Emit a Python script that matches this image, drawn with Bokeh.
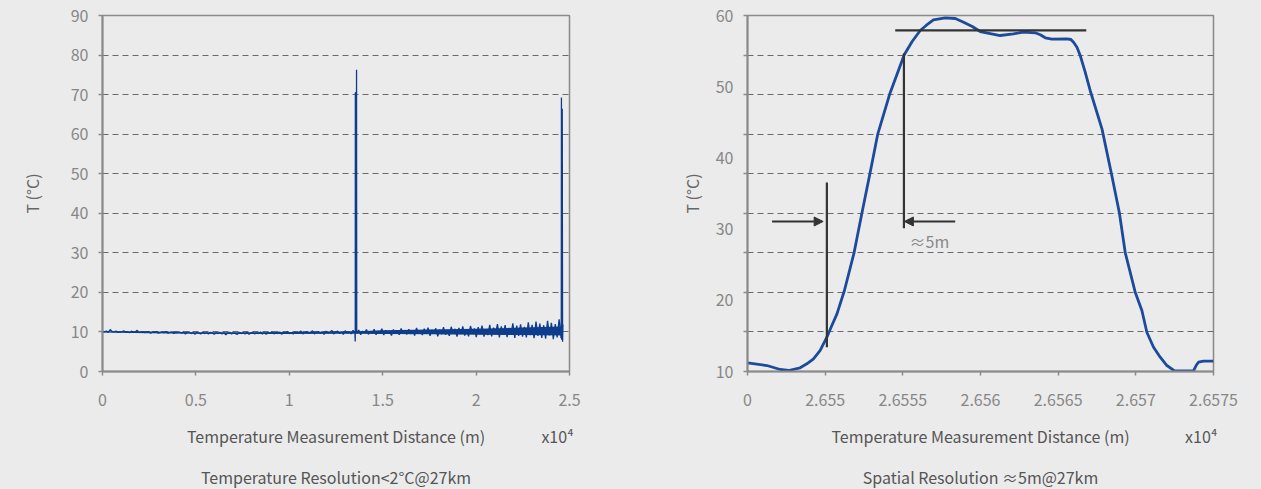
import numpy as np
from bokeh.plotting import figure
from bokeh.layouts import row
from bokeh.models import Range1d, FixedTicker, Label, Arrow, NormalHead, LinearAxis
from bokeh.embed import file_html
from bokeh.resources import INLINE

# ---------------- data : left chart (distance in 1e4 m, temperature in degC) ----------------
trace_start = 0.0
trace_end = 2.465
noise_vals = [
    10.1, 10.0, 10.2, 9.9, 10.6, 10.1, 10.0, 10.2, 9.9, 10.1, 10.0, 10.3, 9.9, 10.1, 9.8, 10.2, 9.9, 10.0, 10.4, 9.9,
    10.0, 10.1, 9.8, 10.0, 10.1, 9.7, 10.0, 9.9, 10.1, 9.7, 9.9, 10.0, 9.8, 10.1, 9.7, 9.9, 10.0, 9.6, 9.9, 9.8,
    10.0, 9.7, 9.9, 9.5, 9.8, 10.0, 9.6, 9.8, 9.4, 9.9, 9.7, 9.5, 9.9, 9.6, 9.8, 9.5, 9.9, 9.7, 9.4, 9.8,
    9.6, 9.9, 9.5, 9.8, 9.3, 9.7, 9.9, 9.5, 9.8, 9.6, 9.4, 9.9, 9.6, 9.8, 9.5, 9.9, 9.4, 9.7, 9.9, 9.5,
    9.8, 9.6, 10.0, 9.5, 9.8, 9.4, 9.9, 9.7, 10.1, 9.5, 9.8, 9.6, 10.0, 9.4, 9.9, 9.7, 10.1, 9.6, 9.8, 9.5,
    10.0, 9.6, 9.9, 10.2, 9.5, 9.8, 10.1, 9.6, 9.9, 10.3, 9.5, 9.9, 10.1, 9.6, 10.0, 9.4, 10.2, 9.7, 9.9, 10.4,
    9.5, 9.9, 10.2, 9.6, 10.0, 9.4, 10.3, 9.7, 10.1, 9.5, 10.4, 9.8, 9.6, 10.5, 9.3, 10.2, 9.7, 10.6, 9.4, 10.1,
    9.6, 10.7, 9.3, 10.2, 9.8, 10.8, 9.2, 10.4, 9.7, 10.1, 9.1, 10.6, 9.8, 10.3, 9.3, 10.9, 9.6, 10.2, 9.4, 10.7,
    9.5, 10.4, 9.1, 11.0, 9.7, 10.3, 9.2, 10.8, 9.6, 11.1, 9.0, 10.5, 9.8, 10.9, 8.9, 10.6, 9.4, 11.2, 9.3, 10.4,
    9.0, 11.3, 9.6, 10.8, 8.8, 11.0, 9.5, 11.4, 9.1, 10.6, 8.9, 11.5, 9.7, 10.9, 8.7, 11.2, 9.4, 11.6, 8.8, 10.7,
    9.2, 11.8, 8.9, 11.1, 9.6, 12.0, 8.6, 11.4, 9.3, 11.7, 8.7, 11.0, 9.5, 12.2, 8.5, 11.6, 9.0, 11.9, 8.8, 11.3,
    8.6, 12.4, 9.2, 11.8, 8.4, 12.6, 9.0, 12.1, 8.5, 11.7, 8.3, 12.8, 9.1, 12.3, 8.2, 12.0, 8.6, 13.2, 8.4, 11.9,
]
spike_x = [1.3530, 1.3536, 1.3560, 1.3584, 1.3600, 1.3610,
           2.4560, 2.4568, 2.4578, 2.4600, 2.4612, 2.4630]
spike_y = [7.6, 70.4, 70.6, 9.8, 76.3, 9.9,
           13.5, 69.3, 8.0, 66.3, 66.3, 7.5]
# dense core of the noisy trace
band_x = [0, 0.25, 0.5, 0.75, 1.0, 1.25, 1.36, 1.5, 1.75, 2.0, 2.25, 2.465]
band_lo = [9.85, 9.7, 9.55, 9.5, 9.5, 9.55, 9.55, 9.5, 9.4, 9.3, 9.2, 9.1]
band_hi = [10.15, 10.1, 9.95, 9.9, 10.0, 10.1, 10.15, 10.4, 10.6, 10.8, 11.1, 11.4]

left_xticks = [0, 0.5, 1, 1.5, 2, 2.5]
left_xlabels = ["0", "0.5", "1", "1.5", "2", "2.5"]
left_yticks = [0, 10, 20, 30, 40, 50, 60, 70, 80, 90]
left_grid = [10, 20, 30, 40, 50, 60, 70, 80]

# ---------------- data : right chart ----------------
curve_x = [2.6545, 2.654625, 2.654711, 2.654764, 2.654839, 2.654882, 2.654925, 2.654968, 2.655011,
           2.655043, 2.655076, 2.655124, 2.655186, 2.655237, 2.655288, 2.655339, 2.655414, 2.655509,
           2.655560, 2.655612, 2.655650, 2.655697, 2.655773, 2.655838, 2.655891, 2.655947, 2.655998,
           2.656127, 2.656211, 2.656277, 2.656352, 2.656385, 2.656417, 2.656460, 2.656556, 2.656582,
           2.656599, 2.656621, 2.656642, 2.656674, 2.656706, 2.656782, 2.656843, 2.656894, 2.656932,
           2.656996, 2.657039, 2.657071, 2.657114, 2.657157, 2.657200, 2.657249, 2.657371, 2.657388,
           2.657403, 2.657436, 2.6575]
curve_y = [11.2, 10.84, 10.28, 10.14, 10.52, 11.08, 11.78, 12.95, 14.82,
           16.46, 18.1, 21.38, 26.67, 32.29, 37.77, 43.38, 48.86, 54.48,
           56.35, 57.9, 58.6, 59.4, 59.67, 59.58, 59.06, 58.46, 57.75,
           57.19, 57.43, 57.66, 57.57, 57.29, 56.87, 56.67, 56.72, 56.63,
           56.25, 55.55, 54.38, 52.04, 49.47, 44.08, 37.77, 32.29, 26.67,
           21.14, 18.57, 15.52, 13.41, 12.01, 10.84, 10.1, 10.1, 10.84,
           11.3, 11.45, 11.45]

right_xticks = [2.6545, 2.655, 2.6555, 2.656, 2.6565, 2.657, 2.6575]
right_xlabels = ["0", "2.655", "2.6555", "2.656", "2.6565", "2.657", "2.6575"]
right_ylabels = [10, 20, 30, 40, 50, 60]
right_grid = [10.0, 15.556, 21.111, 26.667, 32.222, 37.778, 43.333, 48.889, 54.444, 60.0]

# annotation marks (segments) in data units
seg_x0 = [2.655451, 2.655507, 2.655011]
seg_y0 = [57.9, 54.66, 36.55]
seg_x1 = [2.656681, 2.655507, 2.655011]
seg_y1 = [57.9, 30.13, 13.41]
arrow_x_start = [2.654658, 2.655837]
arrow_x_end = [2.654987, 2.655510]
arrow_y = [31.07, 31.07]
note_text = "≈5m"
note_x = 2.655543
note_y = 28.26

# texts below the axes (title row position in data x, caption)
left_title_x = [1.25, 2.436]
left_title_txt = ["Temperature Measurement Distance (m)", "x10⁴"]
left_caption = "Temperature Resolution<2°C@27km"
right_title_x = [2.6560, 2.657421]
right_title_txt = ["Temperature Measurement Distance (m)", "x10⁴"]
right_caption = "Spatial Resolution ≈5m@27km"
y_title = "T (°C)"

FONT = "Noto Sans CJK SC"
BG = "#ebebeb"
TICK_C = "#878787"
AXIS_C = "#8a8a8a"
TITLE_C = "#555555"
GRID_C = "#6a6a6a"


def style(p, ytitle_standoff):
    p.background_fill_color = BG
    p.border_fill_color = BG
    p.outline_line_color = AXIS_C
    p.outline_line_width = 1.5
    p.xgrid.visible = False
    p.ygrid.grid_line_color = GRID_C
    p.ygrid.grid_line_dash = "6 4"
    p.ygrid.grid_line_width = 1
    for ax in (p.xaxis[0], p.yaxis[0]):
        ax.axis_line_color = AXIS_C
        ax.axis_line_width = 2
        ax.major_tick_line_color = AXIS_C
        ax.major_tick_line_width = 1.5
        ax.major_tick_out = 4
        ax.major_tick_in = 0
        ax.minor_tick_line_color = None
        ax.major_label_text_font = FONT
        ax.major_label_text_font_size = "16px"
        ax.major_label_text_color = TICK_C
    p.xaxis[0].major_label_standoff = 18
    p.yaxis[0].major_label_standoff = 10
    p.yaxis[0].axis_label = y_title
    p.yaxis[0].axis_label_text_font = FONT
    p.yaxis[0].axis_label_text_font_style = "normal"
    p.yaxis[0].axis_label_text_font_size = "16px"
    p.yaxis[0].axis_label_text_color = "#666666"
    p.yaxis[0].axis_label_standoff = ytitle_standoff


def add_title_axis(p, ticks, labels, caption):
    ax = LinearAxis(ticker=FixedTicker(ticks=ticks),
                    major_label_overrides={t: l for t, l in zip(ticks, labels)},
                    axis_line_color=None, major_tick_line_color=None, minor_tick_line_color=None,
                    major_tick_out=0, major_tick_in=0, minor_tick_out=0, minor_tick_in=0,
                    major_label_standoff=15,
                    major_label_text_font=FONT, major_label_text_font_size="16px",
                    major_label_text_color=TITLE_C,
                    axis_label=caption, axis_label_text_font=FONT,
                    axis_label_text_font_style="normal", axis_label_text_font_size="16px",
                    axis_label_text_color=TITLE_C, axis_label_standoff=14)
    p.add_layout(ax, "below")


# ---------------- left figure ----------------
p1 = figure(frame_width=467, frame_height=356, x_range=Range1d(0, 2.5), y_range=Range1d(0, 90),
            output_backend="svg", toolbar_location=None,
            min_border_left=102, min_border_right=61, min_border_top=15, min_border_bottom=60)
style(p1, 24)
p1.xaxis[0].ticker = FixedTicker(ticks=left_xticks)
p1.xaxis[0].major_label_overrides = {t: l for t, l in zip(left_xticks, left_xlabels)}
p1.yaxis[0].ticker = FixedTicker(ticks=left_yticks)
p1.ygrid[0].ticker = FixedTicker(ticks=left_grid)
add_title_axis(p1, left_title_x, left_title_txt, left_caption)

noise_x = np.linspace(trace_start, trace_end, len(noise_vals))
all_x = np.concatenate([noise_x, np.array(spike_x)])
all_y = np.concatenate([np.array(noise_vals), np.array(spike_y)])
order = np.argsort(all_x, kind="stable")
p1.varea(x=band_x, y1=band_lo, y2=band_hi, fill_color="#0d3d8c", fill_alpha=1.0)
p1.line(all_x[order], all_y[order], line_color="#0d3d8c", line_width=1.3)

# ---------------- right figure ----------------
p2 = figure(frame_width=466, frame_height=356, x_range=Range1d(2.6545, 2.6575), y_range=Range1d(10, 60),
            output_backend="svg", toolbar_location=None,
            min_border_left=117, min_border_right=40, min_border_top=15, min_border_bottom=60)
style(p2, 9)
p2.xaxis[0].ticker = FixedTicker(ticks=right_xticks)
p2.xaxis[0].major_label_overrides = {t: l for t, l in zip(right_xticks, right_xlabels)}
p2.yaxis[0].ticker = FixedTicker(ticks=right_ylabels, minor_ticks=right_grid)
p2.yaxis[0].major_tick_line_color = None
p2.yaxis[0].minor_tick_line_color = AXIS_C
p2.yaxis[0].minor_tick_line_width = 1.5
p2.yaxis[0].minor_tick_out = 4
p2.yaxis[0].minor_tick_in = 0
p2.ygrid[0].ticker = FixedTicker(ticks=right_grid[1:-1])
add_title_axis(p2, right_title_x, right_title_txt, right_caption)

p2.line(curve_x, curve_y, line_color="#1c4b9b", line_width=2.8, line_join="round")
p2.segment(x0=seg_x0, y0=seg_y0, x1=seg_x1, y1=seg_y1, line_color="#333333", line_width=2.2)
for xs, xe, ya in zip(arrow_x_start, arrow_x_end, arrow_y):
    p2.add_layout(Arrow(x_start=xs, y_start=ya, x_end=xe, y_end=ya,
                        line_color="#333333", line_width=2.2,
                        end=NormalHead(size=9, fill_color="#333333", line_color="#333333")))
p2.add_layout(Label(x=note_x, y=note_y, text=note_text, text_font=FONT, text_font_size="16px",
                    text_color="#888888", text_align="left", text_baseline="middle"))

layout = row(p1, p2)
html = file_html(layout, INLINE)
html = html.replace("</head>", "<style>html, body { background: #ebebeb; }</style>\n</head>", 1)
open("out.html", "w").write(html)
